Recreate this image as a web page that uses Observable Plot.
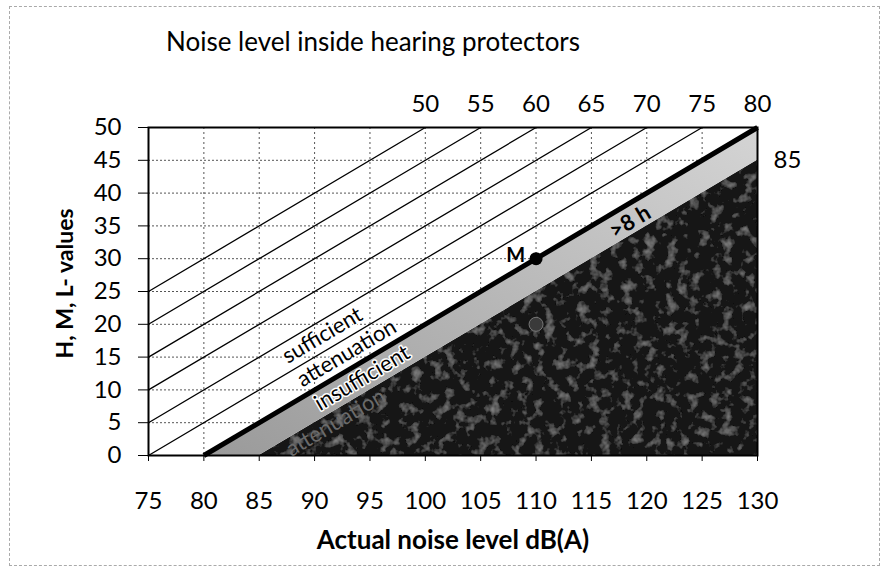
<!DOCTYPE html>
<html><head><meta charset="utf-8">
<script src="https://cdn.jsdelivr.net/npm/d3@7"></script>
<script src="https://cdn.jsdelivr.net/npm/@observablehq/plot@0.6"></script>
<style>
body{margin:0;background:#fff;font-family:Lato,"Open Sans",sans-serif;}
#wrap{position:relative;width:882px;height:579px;overflow:hidden;}
#title{height:70px;box-sizing:border-box;padding-left:166px;padding-top:26px;font-size:26px;line-height:30px;color:#000;white-space:nowrap;}
#frame{position:absolute;left:9px;top:6px;width:869px;height:558px;border:1px dashed #aaa;pointer-events:none;}
svg{display:block;}
</style></head><body>
<div id="wrap"><div id="frame"></div><div id="title">Noise level inside hearing protectors</div><div id="chart"></div></div>
<svg width="0" height="0" style="position:absolute">
  <defs>
    <linearGradient id="bandGrad" x1="0" y1="1" x2="1" y2="0">
      <stop offset="0%" stop-color="#9a9a9a"/>
      <stop offset="100%" stop-color="#d4d4d4"/>
    </linearGradient>
    <filter id="grain" x="0" y="0" width="100%" height="100%">
      <feTurbulence type="fractalNoise" baseFrequency="0.09" numOctaves="3" seed="4" result="t"/>
      <feColorMatrix in="t" type="matrix" values="0 0 0 0 0.33  0 0 0 0 0.33  0 0 0 0 0.33  1.6 0 0 0 -0.85" result="n"/>
      <feComposite in="n" in2="SourceGraphic" operator="in" result="m"/>
      <feMerge><feMergeNode in="SourceGraphic"/><feMergeNode in="m"/></feMerge>
    </filter>
  </defs>
</svg>
<script>
const xTicks = [75,80,85,90,95,100,105,110,115,120,125,130];
const yTicks = [0,5,10,15,20,25,30,35,40,45,50];
const levels = [50,55,60,65,70,75,80,85];
const lineX1 = [75,75,75,75,75,75,80,85];
const lineY1 = [25,20,15,10,5,0,0,0];
const lineX2 = [100,105,110,115,120,125,130,130];
const lineY2 = [50,50,50,50,50,50,50,45];
const bandX = [80,85,130];
const bandLow = [0,0,45];
const bandHigh = [0,5,50];
const darkX = [85,130];
const darkHigh = [0,45];
const pointX = [110,110];
const pointY = [30,20];
const pointLabel = ["M",""];
const zoneText = ["sufficient","attenuation","insufficient","attenuation",">8 h"];
const zoneX = [90.7,92.9,94.3,91.9,118.5];
const zoneY = [18.3,15.6,11.8,5.0,35.6];

const segs = levels.map((l,i)=>({level:l,x1:lineX1[i],y1:lineY1[i],x2:lineX2[i],y2:lineY2[i]}));
const band = bandX.map((x,i)=>({x,lo:bandLow[i],hi:bandHigh[i]}));
const dark = darkX.map((x,i)=>({x,hi:darkHigh[i]}));
const pts = pointX.map((x,i)=>({x,y:pointY[i],label:pointLabel[i]}));
const zones = zoneText.map((t,i)=>({t,x:zoneX[i],y:zoneY[i]}));
const ang = -30.6;

const chart = Plot.plot({
  width: 882, height: 509,
  marginLeft: 148, marginRight: 125, marginTop: 57, marginBottom: 124,
  style: {fontFamily: "Lato, 'Open Sans', sans-serif", fontSize: "24px", color: "#000", background: "transparent", overflow: "visible"},
  x: {domain: [75,130], ticks: xTicks, tickSize: 6, tickPadding: 30, label: null},
  y: {domain: [0,50], ticks: yTicks, tickSize: 10, tickPadding: 17, label: null},
  marks: [
    Plot.ruleX(xTicks, {stroke: "#555", strokeDasharray: "2,3", strokeWidth: 1}),
    Plot.ruleY(yTicks, {stroke: "#555", strokeDasharray: "2,2", strokeWidth: 1}),
    Plot.areaY(dark, {x: "x", y1: 0, y2: "hi", fill: "#161616"}),
    Plot.areaY(band, {x: "x", y1: "lo", y2: "hi", fill: "url(#bandGrad)"}),
    Plot.link(segs.filter(d=>d.level!==80 && d.level!==85), {x1:"x1",y1:"y1",x2:"x2",y2:"y2",stroke:"#000",strokeWidth:1.3}),
    Plot.link(segs.filter(d=>d.level===80), {x1:"x1",y1:"y1",x2:"x2",y2:"y2",stroke:"#000",strokeWidth:5}),
    Plot.frame({stroke: "#000", strokeWidth: 2}),
    Plot.text(segs.filter(d=>d.level!==85), {x:"x2", y:"y2", text: d=>String(d.level), dy: -23, fontSize: 24}),
    Plot.text(segs.filter(d=>d.level===85), {x:"x2", y:"y2", text: d=>String(d.level), dx: 16, textAnchor: "start", fontSize: 24}),
    Plot.text(zones.slice(0,3), {x:"x", y:"y", text:"t", rotate: ang, fontSize: 22, fill:"#000", stroke:"#fff", strokeWidth: 3}),
    Plot.text(zones.slice(3,4), {x:"x", y:"y", text:"t", rotate: ang, fontSize: 22, fill:"#6a6a6a"}),
    Plot.text(zones.slice(4), {x:"x", y:"y", text:"t", rotate: ang, fontSize: 22, fontWeight: "bold", fill:"#000"}),
    Plot.dot(pts.slice(1), {x:"x", y:"y", r: 7, fill: "#3a3a3a", stroke: "#777", strokeWidth: 1}),
    Plot.dot(pts.slice(0,1), {x:"x", y:"y", r: 6.5, fill: "#000"}),
    Plot.text(pts.slice(0,1), {x:"x", y:"y", text:"label", dx: -11, dy: -3, textAnchor: "end", fontSize: 20, fontWeight: "bold"}),
    Plot.text(["Actual noise level dB(A)"], {frameAnchor: "bottom", textAnchor: "middle", lineAnchor: "middle", dy: 85, fontSize: 26, fontWeight: "bold"}),
    Plot.text(["H, M, L- values"], {frameAnchor: "left", textAnchor: "middle", lineAnchor: "middle", dx: -83, dy: -8, rotate: -90, fontSize: 23, fontWeight: "bold"})
  ]
});
d3.select(chart).selectAll('g[fill="#161616"]').attr("filter", "url(#grain)");
document.getElementById("chart").appendChild(chart);
</script>
</body></html>
